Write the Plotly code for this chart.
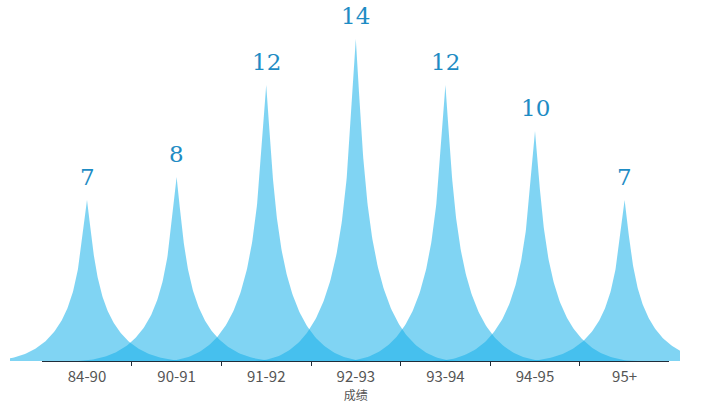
import numpy as np
import plotly.graph_objects as go

categories = ["84-90", "90-91", "91-92", "92-93", "93-94", "94-95", "95+"]
counts = [7, 8, 12, 14, 12, 10, 7]
axis_title = "成绩"

SPIKE_HALF = 1.15          # half width of a spike, in category units
FILL = "rgba(21,176,233,0.54)"
LABEL_COLOR = "#1e8cc4"


def bezier(p0, p1, p2, p3, n=120):
    t = np.linspace(0, 1, n)[:, None]
    pts = ((1 - t) ** 3) * np.array(p0) + 3 * ((1 - t) ** 2) * t * np.array(p1) \
        + 3 * (1 - t) * t ** 2 * np.array(p2) + t ** 3 * np.array(p3)
    return pts


# ECharts-like spike path: M0,10 L10,10 C5.5,10 5.5,5 5,0 C4.5,5 4.5,10 0,10 z
right = bezier((10, 10), (5.5, 10), (5.5, 5), (5, 0))
left = bezier((5, 0), (4.5, 5), (4.5, 10), (0, 10))
shape = np.vstack([[0, 10], right, left])

fig = go.Figure()
for i, (cat, v) in enumerate(zip(categories, counts)):
    xs = i + (shape[:, 0] - 5) / 5 * SPIKE_HALF
    ys = (10 - shape[:, 1]) / 10 * v
    fig.add_trace(go.Scatter(
        x=xs, y=ys, mode="lines", fill="toself", fillcolor=FILL,
        line=dict(width=0, color=FILL), hoverinfo="skip", showlegend=False,
    ))

# invisible trace to carry the category axis (ticks / axis line / title)
fig.add_trace(go.Scatter(
    x=list(range(len(categories))), y=counts, xaxis="x2", yaxis="y",
    mode="none", hoverinfo="skip", showlegend=False,
))

for i, v in enumerate(counts):
    fig.add_annotation(
        x=i, y=v, text=str(v), showarrow=False, yanchor="bottom", yshift=8,
        font=dict(family="DejaVu Serif", size=23, color=LABEL_COLOR),
    )

L_PX = 10.0
R_PX = 680.0
W_PLOT = R_PX - L_PX
CAT_PX = 89.6
C0_PX = 87.0 - L_PX
x0 = -C0_PX / CAT_PX
x1 = x0 + W_PLOT / CAT_PX
n = len(categories)
d0 = (C0_PX - CAT_PX / 2) / W_PLOT
d1 = (C0_PX + CAT_PX * (n - 0.5)) / W_PLOT

fig.update_layout(
    width=701, height=414,
    margin=dict(l=L_PX, r=701 - R_PX, t=0, b=53),
    paper_bgcolor="white", plot_bgcolor="rgba(0,0,0,0)",
    xaxis=dict(
        domain=[0, 1], range=[x0, x1],
        tickmode="array", tickvals=list(range(n)), ticktext=categories,
        showgrid=False, zeroline=False, showline=False, ticks="",
        tickfont=dict(family="Noto Sans CJK SC", size=15, color="#555555"),
        ticklabelstandoff=5,
    ),
    xaxis2=dict(
        domain=[d0, d1], range=[-0.5, n - 0.5], anchor="y",
        tickmode="array", tickvals=[k + 0.5 for k in range(n - 1)],
        ticktext=[""] * (n - 1),
        showgrid=False, zeroline=False, showline=True, linecolor="#1f2d3a",
        linewidth=1, ticks="outside", ticklen=4, tickcolor="#1f2d3a",
        title=dict(text=axis_title, standoff=24,
                   font=dict(family="Noto Sans CJK SC", size=12, color="#555555")),
    ),
    yaxis=dict(range=[0, 361 / 23.0], visible=False, showgrid=False,
               zeroline=False),
)

fig.write_html("out.html", config={"displayModeBar": False},
               post_script="document.body.style.margin='0';")
